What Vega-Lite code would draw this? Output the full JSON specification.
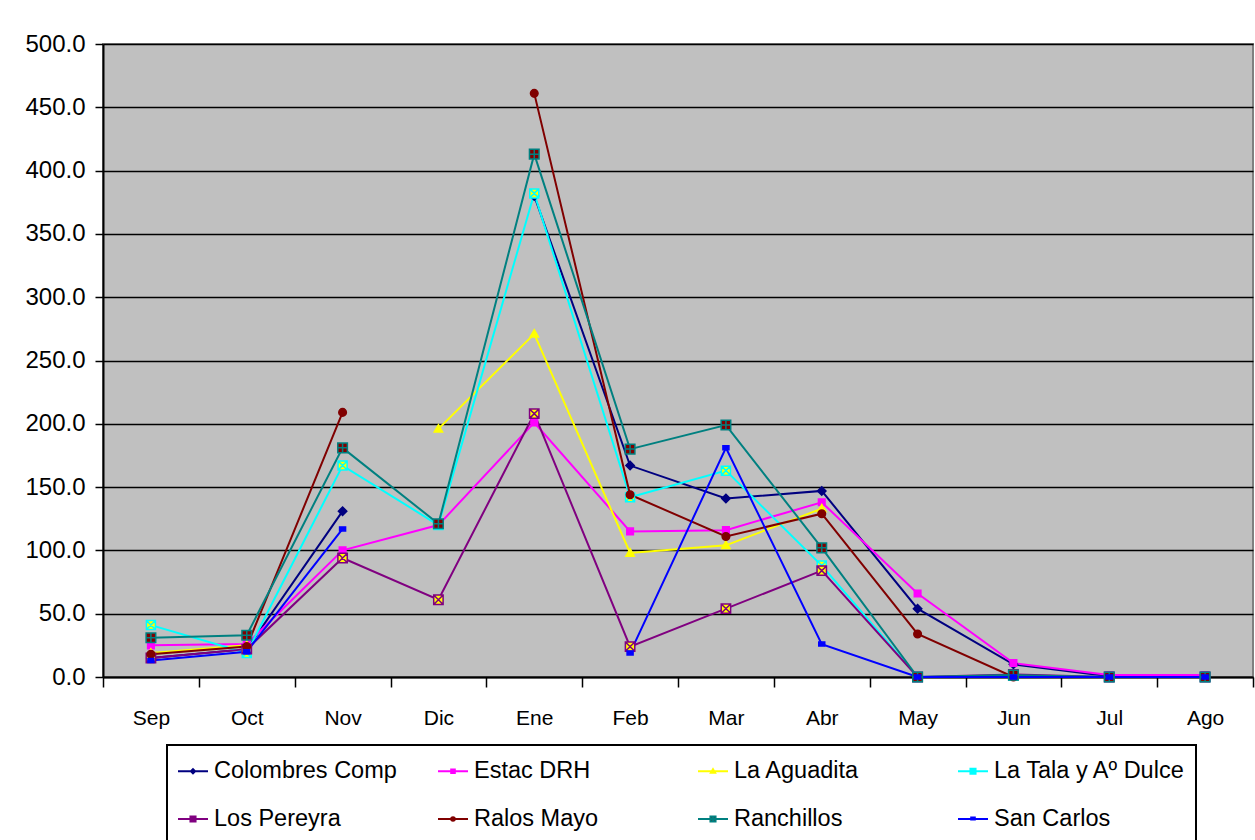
{
  "$schema": "https://vega.github.io/schema/vega-lite/v6.json",
  "autosize": "none",
  "width": 1150,
  "height": 633,
  "padding": {"left": 103, "top": 44, "right": 2, "bottom": 163},
  "background": "white",
  "config": {
    "font": "Liberation Sans",
    "view": {"fill": "#C0C0C0", "stroke": "#808080", "strokeWidth": 2}
  },
  "data": {
    "values": [
      {"m": "Sep", "s": "Colombres Comp", "v": 15}, {"m": "Oct", "s": "Colombres Comp", "v": 22}, {"m": "Nov", "s": "Colombres Comp", "v": 131}, {"m": "Dic", "s": "Colombres Comp", "v": null}, {"m": "Ene", "s": "Colombres Comp", "v": 380}, {"m": "Feb", "s": "Colombres Comp", "v": 167}, {"m": "Mar", "s": "Colombres Comp", "v": 141}, {"m": "Abr", "s": "Colombres Comp", "v": 147}, {"m": "May", "s": "Colombres Comp", "v": 54}, {"m": "Jun", "s": "Colombres Comp", "v": 10}, {"m": "Jul", "s": "Colombres Comp", "v": 0.5}, {"m": "Ago", "s": "Colombres Comp", "v": 0.5},
      {"m": "Sep", "s": "Estac DRH", "v": 25}, {"m": "Oct", "s": "Estac DRH", "v": 26}, {"m": "Nov", "s": "Estac DRH", "v": 100}, {"m": "Dic", "s": "Estac DRH", "v": 120}, {"m": "Ene", "s": "Estac DRH", "v": 201}, {"m": "Feb", "s": "Estac DRH", "v": 115}, {"m": "Mar", "s": "Estac DRH", "v": 116}, {"m": "Abr", "s": "Estac DRH", "v": 138}, {"m": "May", "s": "Estac DRH", "v": 66}, {"m": "Jun", "s": "Estac DRH", "v": 11}, {"m": "Jul", "s": "Estac DRH", "v": 1.5}, {"m": "Ago", "s": "Estac DRH", "v": 1.5},
      {"m": "Sep", "s": "La Aguadita", "v": 19}, {"m": "Oct", "s": "La Aguadita", "v": 25}, {"m": "Nov", "s": "La Aguadita", "v": null}, {"m": "Dic", "s": "La Aguadita", "v": 196}, {"m": "Ene", "s": "La Aguadita", "v": 271}, {"m": "Feb", "s": "La Aguadita", "v": 98}, {"m": "Mar", "s": "La Aguadita", "v": 104}, {"m": "Abr", "s": "La Aguadita", "v": 133}, {"m": "May", "s": "La Aguadita", "v": null}, {"m": "Jun", "s": "La Aguadita", "v": null}, {"m": "Jul", "s": "La Aguadita", "v": null}, {"m": "Ago", "s": "La Aguadita", "v": null},
      {"m": "Sep", "s": "La Tala y Aº Dulce", "v": 41}, {"m": "Oct", "s": "La Tala y Aº Dulce", "v": 19}, {"m": "Nov", "s": "La Tala y Aº Dulce", "v": 167}, {"m": "Dic", "s": "La Tala y Aº Dulce", "v": 120}, {"m": "Ene", "s": "La Tala y Aº Dulce", "v": 382}, {"m": "Feb", "s": "La Tala y Aº Dulce", "v": 142}, {"m": "Mar", "s": "La Tala y Aº Dulce", "v": 163}, {"m": "Abr", "s": "La Tala y Aº Dulce", "v": 88}, {"m": "May", "s": "La Tala y Aº Dulce", "v": 0}, {"m": "Jun", "s": "La Tala y Aº Dulce", "v": 1}, {"m": "Jul", "s": "La Tala y Aº Dulce", "v": 0}, {"m": "Ago", "s": "La Tala y Aº Dulce", "v": 0},
      {"m": "Sep", "s": "Los Pereyra", "v": 15}, {"m": "Oct", "s": "Los Pereyra", "v": 22}, {"m": "Nov", "s": "Los Pereyra", "v": 94}, {"m": "Dic", "s": "Los Pereyra", "v": 61}, {"m": "Ene", "s": "Los Pereyra", "v": 208}, {"m": "Feb", "s": "Los Pereyra", "v": 24}, {"m": "Mar", "s": "Los Pereyra", "v": 54}, {"m": "Abr", "s": "Los Pereyra", "v": 84}, {"m": "May", "s": "Los Pereyra", "v": 0}, {"m": "Jun", "s": "Los Pereyra", "v": 2}, {"m": "Jul", "s": "Los Pereyra", "v": 0}, {"m": "Ago", "s": "Los Pereyra", "v": 0},
      {"m": "Sep", "s": "Ralos Mayo", "v": 18}, {"m": "Oct", "s": "Ralos Mayo", "v": 24}, {"m": "Nov", "s": "Ralos Mayo", "v": 209}, {"m": "Dic", "s": "Ralos Mayo", "v": null}, {"m": "Ene", "s": "Ralos Mayo", "v": 461}, {"m": "Feb", "s": "Ralos Mayo", "v": 144}, {"m": "Mar", "s": "Ralos Mayo", "v": 111}, {"m": "Abr", "s": "Ralos Mayo", "v": 129}, {"m": "May", "s": "Ralos Mayo", "v": 34}, {"m": "Jun", "s": "Ralos Mayo", "v": 0}, {"m": "Jul", "s": "Ralos Mayo", "v": 0}, {"m": "Ago", "s": "Ralos Mayo", "v": 0},
      {"m": "Sep", "s": "Ranchillos", "v": 31}, {"m": "Oct", "s": "Ranchillos", "v": 33}, {"m": "Nov", "s": "Ranchillos", "v": 181}, {"m": "Dic", "s": "Ranchillos", "v": 121}, {"m": "Ene", "s": "Ranchillos", "v": 413}, {"m": "Feb", "s": "Ranchillos", "v": 180}, {"m": "Mar", "s": "Ranchillos", "v": 199}, {"m": "Abr", "s": "Ranchillos", "v": 102}, {"m": "May", "s": "Ranchillos", "v": 0}, {"m": "Jun", "s": "Ranchillos", "v": 1.5}, {"m": "Jul", "s": "Ranchillos", "v": 0}, {"m": "Ago", "s": "Ranchillos", "v": 0},
      {"m": "Sep", "s": "San Carlos", "v": 13}, {"m": "Oct", "s": "San Carlos", "v": 20}, {"m": "Nov", "s": "San Carlos", "v": 117}, {"m": "Dic", "s": "San Carlos", "v": null}, {"m": "Ene", "s": "San Carlos", "v": null}, {"m": "Feb", "s": "San Carlos", "v": 19}, {"m": "Mar", "s": "San Carlos", "v": 181}, {"m": "Abr", "s": "San Carlos", "v": 26}, {"m": "May", "s": "San Carlos", "v": 0}, {"m": "Jun", "s": "San Carlos", "v": 0}, {"m": "Jul", "s": "San Carlos", "v": 0}, {"m": "Ago", "s": "San Carlos", "v": 0}
    ]
  },
  "encoding": {
    "x": {
      "field": "m",
      "type": "ordinal",
      "sort": ["Sep", "Oct", "Nov", "Dic", "Ene", "Feb", "Mar", "Abr", "May", "Jun", "Jul", "Ago"],
      "scale": {"type": "band", "paddingInner": 0, "paddingOuter": 0},
      "axis": {
        "title": null,
        "tickBand": "extent",
        "domainColor": "black",
        "domainWidth": 2,
        "tickColor": "black",
        "tickWidth": 1.5,
        "tickSize": 10,
        "labelFontSize": 21,
        "labelColor": "black",
        "labelPadding": 20,
        "labelAngle": 0,
        "grid": false
      }
    },
    "y": {
      "field": "v",
      "type": "quantitative",
      "scale": {"domain": [0, 500], "nice": false},
      "axis": {
        "title": null,
        "values": [0, 50, 100, 150, 200, 250, 300, 350, 400, 450, 500],
        "format": ".1f",
        "grid": true,
        "gridColor": "black",
        "gridWidth": 1.5,
        "domainColor": "black",
        "domainWidth": 2,
        "tickColor": "black",
        "tickWidth": 1.5,
        "tickSize": 8,
        "labelFontSize": 24,
        "labelColor": "black",
        "labelPadding": 10
      }
    }
  },
  "layer": [
    {
      "mark": {"type": "line", "strokeWidth": 2},
      "encoding": {
        "color": {
          "field": "s",
          "type": "nominal",
          "scale": {
            "domain": ["Colombres Comp", "Estac DRH", "La Aguadita", "La Tala y Aº Dulce", "Los Pereyra", "Ralos Mayo", "Ranchillos", "San Carlos"],
            "range": ["#000080", "#FF00FF", "#FFFF00", "#00FFFF", "#800080", "#800000", "#008080", "#0000FF"]
          },
          "legend": {
            "orient": "none",
            "legendX": 64,
            "legendY": 701,
            "direction": "horizontal",
            "columns": 4,
            "title": null,
            "strokeColor": "black",
            "fillColor": "white",
            "padding": 10,
            "symbolSize": 900,
            "symbolStrokeWidth": 2,
            "labelFontSize": 23.5,
            "labelColor": "black",
            "labelOffset": 5,
            "columnPadding": 28,
            "rowPadding": 20,
            "gridAlign": "all",
            "labelLimit": 300,
            "encode": {
              "legend": {"update": {"strokeWidth": {"value": 2}}},
              "symbols": {
                "update": {
                  "shape": {"signal": "['M-1,0H1M0,-0.14L0.14,0L0,0.14L-0.14,0Z','M-1,0H1M-0.12,-0.12H0.12V0.12H-0.12Z','M-1,0H1M0,-0.14L0.14,0.1H-0.14Z','M-1,0H-0.17M0.17,0H1M-0.17,-0.17H0.17V0.17H-0.17ZM-0.17,-0.17L0.17,0.17M0.17,-0.17L-0.17,0.17','M-1,0H-0.17M0.17,0H1M-0.17,-0.17H0.17V0.17H-0.17ZM-0.17,-0.17L0.17,0.17M0.17,-0.17L-0.17,0.17','M-1,0H1M-0.12,0A0.12,0.12,0,1,0,0.12,0A0.12,0.12,0,1,0,-0.12,0Z','M-1,0H-0.17M0.17,0H1M-0.17,-0.17H0.17V0.17H-0.17ZM0,-0.17V0.17M-0.17,0H0.17','M-1,0H1M-0.12,-0.1H0.12V0.04H-0.12Z'][indexof(['Colombres Comp','Estac DRH','La Aguadita','La Tala y Aº Dulce','Los Pereyra','Ralos Mayo','Ranchillos','San Carlos'], datum.value)]"},
                  "fill": {"signal": "['#000080','#FF00FF','#FFFF00','#FFFF00','#FFFF00','#800000','#800000','#0000FF'][indexof(['Colombres Comp','Estac DRH','La Aguadita','La Tala y Aº Dulce','Los Pereyra','Ralos Mayo','Ranchillos','San Carlos'], datum.value)]"},
                  "stroke": {"signal": "['#000080','#FF00FF','#FFFF00','#00FFFF','#800080','#800000','#008080','#0000FF'][indexof(['Colombres Comp','Estac DRH','La Aguadita','La Tala y Aº Dulce','Los Pereyra','Ralos Mayo','Ranchillos','San Carlos'], datum.value)]"},
                  "strokeWidth": {"value": 2},
                  "size": {"value": 900},
                  "opacity": {"value": 1}
                }
              }
            }
          }
        }
      }
    },
    {
      "mark": {"type": "point", "filled": true, "size": 400, "strokeWidth": 1.5, "opacity": 1},
      "encoding": {
        "shape": {
          "field": "s",
          "type": "nominal",
          "legend": null,
          "scale": {
            "domain": ["San Carlos", "Ranchillos", "Ralos Mayo", "Los Pereyra", "La Tala y Aº Dulce", "La Aguadita", "Estac DRH", "Colombres Comp"],
            "range": [
              "M-0.3,-0.2H0.3V0.2H-0.3Z",
              "M-0.48,-0.48H0.48V0.48H-0.48ZM0,-0.48V0.48M-0.48,0H0.48",
              "M-0.38,0A0.38,0.38,0,1,0,0.38,0A0.38,0.38,0,1,0,-0.38,0Z",
              "M-0.47,-0.47H0.47V0.47H-0.47ZM-0.47,-0.47L0.47,0.47M0.47,-0.47L-0.47,0.47",
              "M-0.45,-0.45H0.45V0.45H-0.45ZM-0.45,-0.45L0.45,0.45M0.45,-0.45L-0.45,0.45",
              "M0,-0.42L0.42,0.32H-0.42Z",
              "M-0.33,-0.33H0.33V0.33H-0.33Z",
              "M0,-0.42L0.42,0L0,0.42L-0.42,0Z"
            ]
          }
        },
        "fill": {
          "field": "s",
          "type": "nominal",
          "legend": null,
          "scale": {
            "domain": ["San Carlos", "Ranchillos", "Ralos Mayo", "Los Pereyra", "La Tala y Aº Dulce", "La Aguadita", "Estac DRH", "Colombres Comp"],
            "range": ["#0000FF", "#800000", "#800000", "#FFFF00", "#FFFF00", "#FFFF00", "#FF00FF", "#000080"]
          }
        },
        "stroke": {
          "field": "s",
          "type": "nominal",
          "legend": null,
          "scale": {
            "domain": ["San Carlos", "Ranchillos", "Ralos Mayo", "Los Pereyra", "La Tala y Aº Dulce", "La Aguadita", "Estac DRH", "Colombres Comp"],
            "range": ["#0000FF", "#008080", "#800000", "#800080", "#00FFFF", "#FFFF00", "#FF00FF", "#000080"]
          }
        }
      }
    }
  ]
}
